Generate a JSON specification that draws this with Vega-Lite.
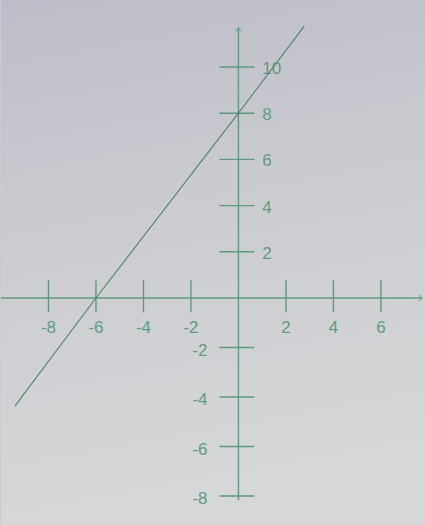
{
  "$schema": "https://vega.github.io/schema/vega-lite/v6.json",
  "width": 425,
  "height": 525,
  "autosize": {"type": "fit", "contains": "padding"},
  "padding": 0,
  "background": "#cacbce",
  "config": {"view": {"stroke": null}},
  "datasets": {
    "paper": [{"x1": -10, "x2": 7.857, "y1": -9.17, "y2": 12.9}],
    "axes": [
      {"x1": -10, "x2": 7.73, "y1": 0, "y2": 0},
      {"x1": 0, "x2": 0, "y1": -8.16, "y2": 11.69}
    ],
    "arrows": [
      {"x": 7.73, "y": 0, "dir": "right"},
      {"x": 0, "y": 11.69, "dir": "up"}
    ],
    "xticks": [
      {"v": -8, "label": "-8"},
      {"v": -6, "label": "-6"},
      {"v": -4, "label": "-4"},
      {"v": -2, "label": "-2"},
      {"v": 2, "label": "2"},
      {"v": 4, "label": "4"},
      {"v": 6, "label": "6"}
    ],
    "yticks": [
      {"v": 10, "label": "10", "side": "pos"},
      {"v": 8, "label": "8", "side": "pos"},
      {"v": 6, "label": "6", "side": "pos"},
      {"v": 4, "label": "4", "side": "pos"},
      {"v": 2, "label": "2", "side": "pos"},
      {"v": -2, "label": "-2", "side": "neg"},
      {"v": -4, "label": "-4", "side": "neg"},
      {"v": -6, "label": "-6", "side": "neg"},
      {"v": -8, "label": "-8", "side": "neg"}
    ],
    "line": [
      {"x": -9.41, "y": -4.36},
      {"x": -6, "y": 0},
      {"x": 0, "y": 8},
      {"x": 2.77, "y": 11.77}
    ]
  },
  "layer": [
    {
      "data": {"name": "paper"},
      "mark": {"type": "rect", "color": {"gradient": "linear", "x1": 0, "y1": 0, "x2": 0.15, "y2": 1, "stops": [{"offset": 0, "color": "#bdbdc9"}, {"offset": 0.45, "color": "#cbccd0"}, {"offset": 1, "color": "#d6d7d8"}]}},
      "encoding": {
        "x": {"field": "x1", "type": "quantitative", "scale": {"domain": [-10, 7.857], "nice": false, "zero": false}, "axis": null},
        "x2": {"field": "x2"},
        "y": {"field": "y1", "type": "quantitative", "scale": {"domain": [-9.17, 0, 12.9], "range": [525, 298, 0], "nice": false, "zero": false}, "axis": null},
        "y2": {"field": "y2"}
      }
    },
    {
      "data": {"name": "axes"},
      "mark": {"type": "rule", "color": "#5f9a7e", "strokeWidth": 1.4},
      "encoding": {
        "x": {"field": "x1", "type": "quantitative", "scale": {"domain": [-10, 7.857], "nice": false, "zero": false}, "axis": null},
        "x2": {"field": "x2"},
        "y": {"field": "y1", "type": "quantitative", "scale": {"domain": [-9.17, 0, 12.9], "range": [525, 298, 0], "nice": false, "zero": false}, "axis": null},
        "y2": {"field": "y2"}
      }
    },
    {
      "data": {"name": "arrows"},
      "transform": [{"filter": "datum.dir === 'right'"}],
      "mark": {"type": "point", "shape": "M-1,-1L0,0L-1,1", "filled": false, "size": 40, "stroke": "#5f9a7e", "strokeWidth": 1.2},
      "encoding": {
        "x": {"field": "x", "type": "quantitative", "scale": {"domain": [-10, 7.857], "nice": false, "zero": false}, "axis": null},
        "y": {"field": "y", "type": "quantitative", "scale": {"domain": [-9.17, 0, 12.9], "range": [525, 298, 0], "nice": false, "zero": false}, "axis": null}
      }
    },
    {
      "data": {"name": "arrows"},
      "transform": [{"filter": "datum.dir === 'up'"}],
      "mark": {"type": "point", "shape": "M-1,1L0,0L1,1", "filled": false, "size": 40, "stroke": "#5f9a7e", "strokeWidth": 1.2},
      "encoding": {
        "x": {"field": "x", "type": "quantitative", "scale": {"domain": [-10, 7.857], "nice": false, "zero": false}, "axis": null},
        "y": {"field": "y", "type": "quantitative", "scale": {"domain": [-9.17, 0, 12.9], "range": [525, 298, 0], "nice": false, "zero": false}, "axis": null}
      }
    },
    {
      "data": {"name": "xticks"},
      "mark": {"type": "rule", "color": "#5f9a7e", "strokeWidth": 1.4},
      "encoding": {
        "x": {"field": "v", "type": "quantitative", "scale": {"domain": [-10, 7.857], "nice": false, "zero": false}, "axis": null},
        "y": {"datum": -0.58, "type": "quantitative", "scale": {"domain": [-9.17, 0, 12.9], "range": [525, 298, 0], "nice": false, "zero": false}, "axis": null},
        "y2": {"datum": 0.78}
      }
    },
    {
      "data": {"name": "xticks"},
      "mark": {"type": "text", "font": "Liberation Sans", "fontSize": 17, "color": "#5f9c80", "baseline": "middle", "align": "center"},
      "encoding": {
        "x": {"field": "v", "type": "quantitative", "scale": {"domain": [-10, 7.857], "nice": false, "zero": false}, "axis": null},
        "y": {"datum": -1.22, "type": "quantitative", "scale": {"domain": [-9.17, 0, 12.9], "range": [525, 298, 0], "nice": false, "zero": false}, "axis": null},
        "text": {"field": "label"}
      }
    },
    {
      "data": {"name": "yticks"},
      "mark": {"type": "rule", "color": "#5f9a7e", "strokeWidth": 1.4},
      "encoding": {
        "x": {"datum": -0.8, "type": "quantitative", "scale": {"domain": [-10, 7.857], "nice": false, "zero": false}, "axis": null},
        "x2": {"datum": 0.67},
        "y": {"field": "v", "type": "quantitative", "scale": {"domain": [-9.17, 0, 12.9], "range": [525, 298, 0], "nice": false, "zero": false}, "axis": null}
      }
    },
    {
      "data": {"name": "yticks"},
      "transform": [{"filter": "datum.side === 'pos'"}],
      "mark": {"type": "text", "font": "Liberation Sans", "fontSize": 17, "color": "#5f9c80", "baseline": "middle", "align": "left", "dy": 2},
      "encoding": {
        "x": {"datum": 1.0, "type": "quantitative", "scale": {"domain": [-10, 7.857], "nice": false, "zero": false}, "axis": null},
        "y": {"field": "v", "type": "quantitative", "scale": {"domain": [-9.17, 0, 12.9], "range": [525, 298, 0], "nice": false, "zero": false}, "axis": null},
        "text": {"field": "label"}
      }
    },
    {
      "data": {"name": "yticks"},
      "transform": [{"filter": "datum.side === 'neg'"}],
      "mark": {"type": "text", "font": "Liberation Sans", "fontSize": 17, "color": "#5f9c80", "baseline": "middle", "align": "right", "dy": 3},
      "encoding": {
        "x": {"datum": -1.3, "type": "quantitative", "scale": {"domain": [-10, 7.857], "nice": false, "zero": false}, "axis": null},
        "y": {"field": "v", "type": "quantitative", "scale": {"domain": [-9.17, 0, 12.9], "range": [525, 298, 0], "nice": false, "zero": false}, "axis": null},
        "text": {"field": "label"}
      }
    },
    {
      "data": {"name": "line"},
      "mark": {"type": "line", "color": "#4f8370", "strokeWidth": 1.1},
      "encoding": {
        "x": {"field": "x", "type": "quantitative", "scale": {"domain": [-10, 7.857], "nice": false, "zero": false}, "axis": null},
        "y": {"field": "y", "type": "quantitative", "scale": {"domain": [-9.17, 0, 12.9], "range": [525, 298, 0], "nice": false, "zero": false}, "axis": null}
      }
    }
  ]
}
